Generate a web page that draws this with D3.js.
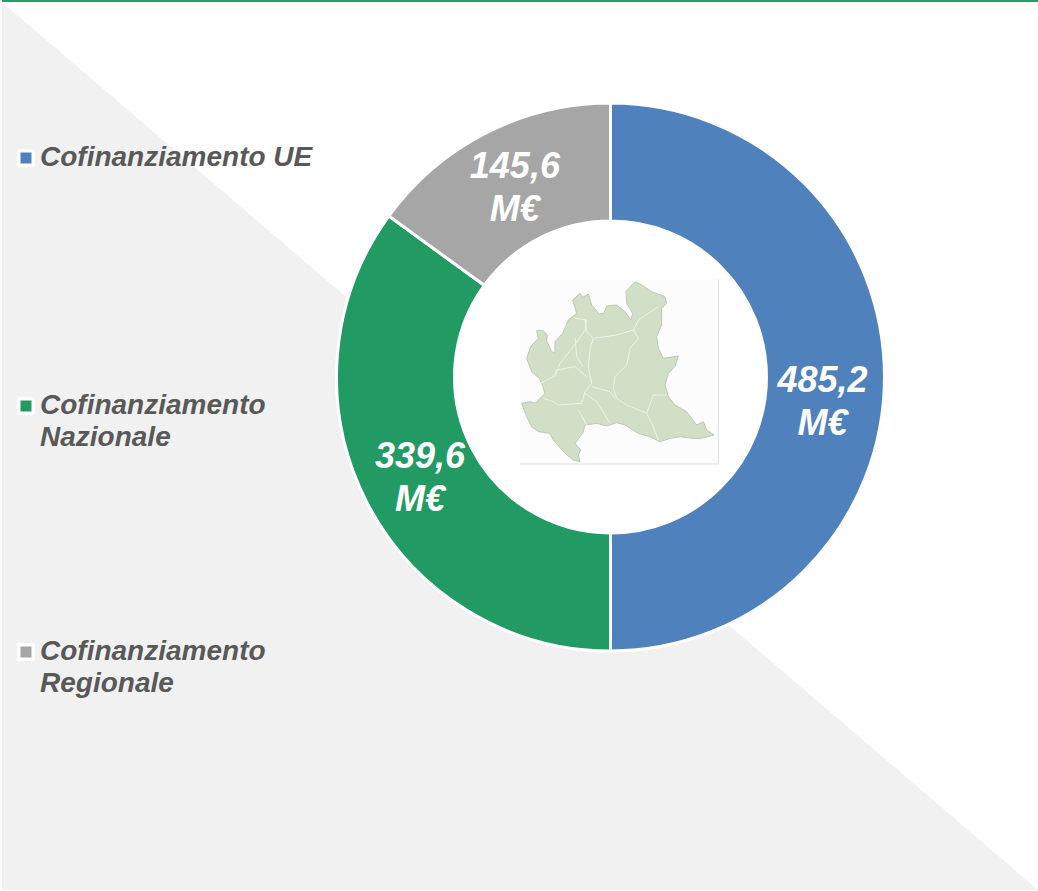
<!DOCTYPE html>
<html>
<head>
<meta charset="utf-8">
<script src="https://cdn.jsdelivr.net/npm/d3@7"></script>
<style>
  html, body { margin: 0; padding: 0; background: #fff; }
  svg { display: block; }
  text { font-family: "Liberation Sans", Arial, sans-serif; font-weight: bold; font-style: italic; }
</style>
</head>
<body>
<div id="chart"></div>
<script>
/* Donut of cofinancing sources, with the Lombardy map in the hole */

// ── Data ─────────────────────────────────────────────────────────────────────

const categories = ["Cofinanziamento UE", "Cofinanziamento Nazionale", "Cofinanziamento Regionale"];
const legendLines = [["Cofinanziamento UE"], ["Cofinanziamento", "Nazionale"], ["Cofinanziamento", "Regionale"]];
const values = [485.2, 339.6, 145.6];
const valueLabels = ["485,2", "339,6", "145,6"];
const unitLabel = "M€";
const colors = ["#4f81bd", "#219a63", "#a6a6a6"];

// Lombardy outline and province borders, traced in a 660x615 image space
const mapOutline = [
  [35,400],[60,395],[75,400],[90,385],[105,370],[95,340],[88,325],[65,305],[50,265],[62,230],[85,205],[80,182],
  [100,182],[112,195],[110,212],[125,245],[135,250],[135,215],[158,190],[175,150],[200,130],[188,90],[210,70],
  [218,82],[235,72],[245,105],[268,132],[282,130],[290,108],[320,105],[345,125],[362,150],[368,130],[350,100],
  [348,65],[375,35],[395,45],[425,65],[465,80],[470,100],[455,115],[455,165],[440,200],[445,235],[460,265],
  [505,258],[495,290],[475,310],[465,345],[475,380],[495,405],[530,425],[560,465],[580,455],[590,480],[612,495],
  [575,505],[545,505],[510,500],[480,505],[450,515],[420,500],[385,490],[345,465],[320,458],[290,468],[260,460],
  [225,465],[218,490],[195,520],[212,540],[205,555],[210,575],[190,570],[165,550],[130,510],[120,490],[85,485],
  [65,470],[50,440]
];
const mapBorders = [
  [[225,150],[230,185],[250,205],[240,235],[235,290],[245,340],[225,365],[215,400],[145,405],[130,395],[100,385]],
  [[250,205],[320,195],[370,180],[385,205],[360,235],[350,285],[315,320],[310,355],[320,385],[350,405],[410,430],[430,375],[470,375]],
  [[370,180],[385,150],[445,110]],
  [[245,350],[300,365],[315,385]],
  [[225,370],[260,395],[300,460]],
  [[205,420],[230,465]],
  [[90,340],[130,320],[140,300],[195,290],[230,320]],
  [[135,320],[150,280],[205,210],[225,180],[230,150],[195,145]],
  [[195,200],[200,260],[220,290]],
  [[410,430],[430,470],[445,510]]
];

// ── Layout ───────────────────────────────────────────────────────────────────

const W = 1038, H = 891;
const CX = 610.5, CY = 377, R_OUT = 274, R_IN = 156;
const labelNudge = [[-3, 24], [1, 2], [2, 2]];   // offset from the arc centroid
const legendBaseline = [166, 414, 660];

const svg = d3.select("#chart").append("svg")
  .attr("width", W).attr("height", H)
  .attr("viewBox", `0 0 ${W} ${H}`);

// The map is a soft, low-res picture in the original
svg.append("defs").append("filter")
  .attr("id", "soft")
  .append("feGaussianBlur")
  .attr("stdDeviation", 0.6);

// Background triangle and top rule
svg.append("path")
  .attr("d", `M2,2L${W},${H - 1}L2,${H - 1}Z`)
  .attr("fill", "#f1f1f1");

svg.append("rect")
  .attr("x", 2).attr("y", 0)
  .attr("width", W - 2).attr("height", 2)
  .attr("fill", "#21a366");

// ── Donut ────────────────────────────────────────────────────────────────────

const pieGen = d3.pie().sort(null)(values);
const arcGen = d3.arc().innerRadius(R_IN).outerRadius(R_OUT);

const donut = svg.append("g").attr("transform", `translate(${CX},${CY})`);

donut.append("circle").attr("r", R_IN).attr("fill", "#fff");

donut.selectAll("path")
  .data(pieGen)
  .join("path")
  .attr("d", arcGen)
  .attr("fill", (d, i) => colors[i])
  .attr("stroke", "#fff")
  .attr("stroke-width", 3);

const labels = donut.selectAll("text")
  .data(pieGen)
  .join("text")
  .attr("transform", (d, i) => {
    const c = arcGen.centroid(d);
    return `translate(${c[0] + labelNudge[i][0]},${c[1] + labelNudge[i][1]})`;
  })
  .attr("text-anchor", "middle")
  .attr("fill", "#fff")
  .attr("font-size", 36);

labels.append("tspan").attr("x", 0).attr("y", -9).text((d, i) => valueLabels[i]);
labels.append("tspan").attr("x", 0).attr("y", 34).text(unitLabel);

// ── Map picture ──────────────────────────────────────────────────────────────

const mapX = d3.scaleLinear().domain([0, 660]).range([510, 730]);
const mapY = d3.scaleLinear().domain([0, 615]).range([270, 475]);
const mapLine = d3.line().x(d => mapX(d[0])).y(d => mapY(d[1]));
const mapArea = d3.line().x(d => mapX(d[0])).y(d => mapY(d[1])).curve(d3.curveLinearClosed);

const map = svg.append("g");

map.append("rect")
  .attr("x", mapX(30)).attr("y", mapY(28))
  .attr("width", mapX(625) - mapX(30)).attr("height", mapY(582) - mapY(28))
  .attr("fill", "#fbfcfb");

map.append("path")
  .attr("d", `M${mapX(30)},${mapY(582)}H${mapX(625)}V${mapY(28)}`)
  .attr("fill", "none")
  .attr("stroke", "#dcdedc");

const mapShape = map.append("g").attr("filter", "url(#soft)");

mapShape.append("path")
  .datum(mapOutline)
  .attr("d", mapArea)
  .attr("fill", "#d1dfc6")
  .attr("stroke", "#bcc9b2")
  .attr("stroke-width", 1)
  .attr("stroke-linejoin", "round");

mapShape.selectAll(".border")
  .data(mapBorders)
  .join("path")
  .attr("class", "border")
  .attr("d", mapLine)
  .attr("fill", "none")
  .attr("stroke", "#eef3ea")
  .attr("stroke-width", 1)
  .attr("stroke-linejoin", "round");

// ── Legend ───────────────────────────────────────────────────────────────────

const legend = svg.selectAll(".legend-item")
  .data(categories)
  .join("g")
  .attr("class", "legend-item")
  .attr("transform", (d, i) => `translate(0,${legendBaseline[i]})`);

legend.append("rect")
  .attr("x", 17).attr("y", -17)
  .attr("width", 18).attr("height", 18)
  .attr("rx", 3)
  .attr("fill", "#fff");

legend.append("rect")
  .attr("x", 20.5).attr("y", -13.5)
  .attr("width", 11).attr("height", 11)
  .attr("fill", (d, i) => colors[i]);

legend.append("text")
  .attr("fill", "#595959")
  .attr("font-size", 28)
  .selectAll("tspan")
  .data((d, i) => legendLines[i])
  .join("tspan")
  .attr("x", 40)
  .attr("y", (d, j) => j * 32)
  .text(d => d);
</script>
</body>
</html>
